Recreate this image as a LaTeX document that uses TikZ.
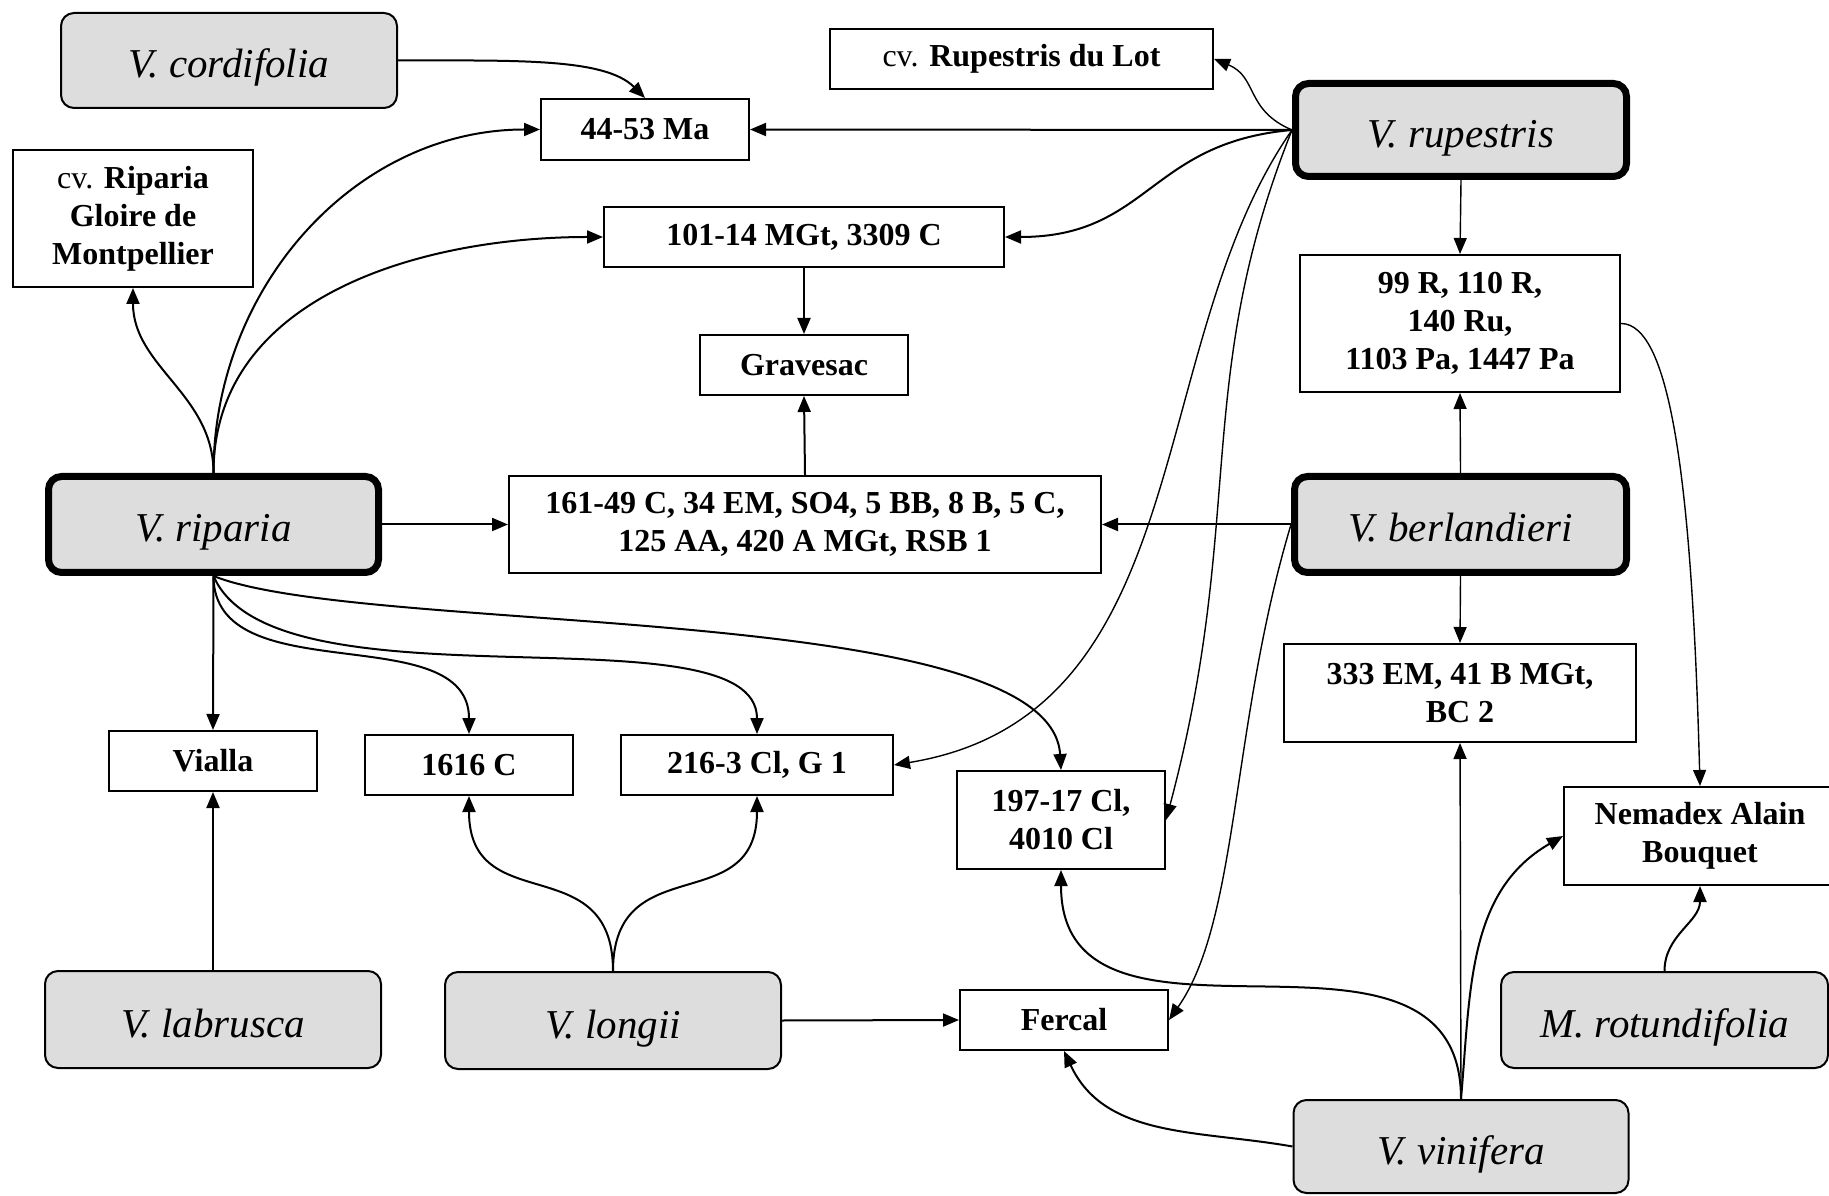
\documentclass[tikz,border=0pt]{standalone}
\usepackage{fontspec}
\setmainfont{Liberation Serif}
\usetikzlibrary{arrows.meta}
\definecolor{speciesgray}{RGB}{221,221,221}

\begin{document}
\begin{tikzpicture}[x=0.5pt,y=0.5pt,
	species/.style={draw,fill=speciesgray,rounded corners=6.5pt,line width=1pt,inner sep=0pt,text height=17.5pt,text depth=0pt,font=\fontsize{20.5}{24}\selectfont\itshape},
	mainspecies/.style={species,line width=3.5pt},
	rootstock/.style={draw,fill=white,line width=1pt,inner sep=2pt,align=center,font=\fontsize{16}{19}\selectfont\bfseries},
	link/.style={line width=1pt,-{Triangle[length=8pt,width=6.5pt]}},
	thinlink/.style={link,line width=0.7pt}]
	\useasboundingbox (0,0) rectangle (1829,1195);

	\node[species,minimum width=168pt,minimum height=47.5pt] (cordifolia) at (229,1134.5) {V. cordifolia};
	\node[mainspecies,minimum width=165.5pt,minimum height=46.5pt] (rupestris) at (1461,1065) {V. rupestris};
	\node[mainspecies,minimum width=165pt,minimum height=48pt] (riparia) at (213.5,670.5) {V. riparia};
	\node[mainspecies,minimum width=166pt,minimum height=48pt] (berlandieri) at (1460.5,670.5) {V. berlandieri};
	\node[species,minimum width=168pt,minimum height=48.5pt] (labrusca) at (213,175.5) {V. labrusca};
	\node[species,minimum width=168pt,minimum height=48.5pt] (longii) at (613,174.5) {V. longii};
	\node[species,minimum width=167.5pt,minimum height=46.5pt] (vinifera) at (1461,48.5) {V. vinifera};
	\node[species,minimum width=163.5pt,minimum height=48pt] (rotundifolia) at (1664.5,175) {M. rotundifolia};

	\node[rootstock,minimum width=191.5pt,minimum height=30pt] (lot) at (1021.5,1136) {{\mdseries cv.} Rupestris du Lot};
	\node[rootstock,minimum width=104pt,minimum height=30.5pt] (ma) at (645,1065.5) {44-53 Ma};
	\node[rootstock,minimum width=120pt,minimum height=68.5pt] (gloire) at (133,976.5) {{\mdseries cv.} Riparia\\Gloire de\\Montpellier};
	\node[rootstock,minimum width=200pt,minimum height=30pt] (mgt) at (804,958) {101-14 MGt, 3309 C};
	\node[rootstock,minimum width=104pt,minimum height=30pt] (gravesac) at (804,830) {Gravesac};
	\node[rootstock,minimum width=160pt,minimum height=68.5pt] (ru) at (1460,871.5) {99 R, 110 R,\\140 Ru,\\1103 Pa, 1447 Pa};
	\node[rootstock,minimum width=296pt,minimum height=48.5pt] (cfam) at (805,670.5) {161-49 C, 34 EM, SO4, 5 BB, 8 B, 5 C,\\125 AA, 420 A MGt, RSB 1};
	\node[rootstock,minimum width=104pt,minimum height=30pt] (vialla) at (213,434) {Vialla};
	\node[rootstock,minimum width=104pt,minimum height=30pt] (c1616) at (469,430) {1616 C};
	\node[rootstock,minimum width=136pt,minimum height=30pt] (cl216) at (757,430) {216-3 Cl, G 1};
	\node[rootstock,minimum width=104pt,minimum height=49pt] (cl197) at (1061,375) {197-17 Cl,\\4010 Cl};
	\node[rootstock,minimum width=176pt,minimum height=49pt] (em333) at (1460,502) {333 EM, 41 B MGt,\\BC 2};
	\node[rootstock,minimum width=136pt,minimum height=49pt] (nemadex) at (1700,359) {Nemadex Alain\\Bouquet};
	\node[rootstock,minimum width=104pt,minimum height=30pt] (fercal) at (1064,175) {Fercal};

	\draw[link] (cordifolia.east) .. controls +(120,0) and +(-40,40) .. (ma.north);
	\draw[link] (rupestris.west) -- (ma.east);
	\draw[thinlink] (rupestris.west) .. controls +(-47,20) and +(44,-18) .. (lot.east);
	\draw[link] (rupestris.west) to[out=185,in=0,looseness=1.2] (mgt.east);
	\draw[thinlink] (rupestris.west) .. controls +(-150,-215) and +(306,50) .. (cl216.east);
	\draw[thinlink] (rupestris.west) .. controls +(-100,-250) and +(80,300) .. (cl197.east);
	\draw[link] (berlandieri.west) -- (cfam.east);
	\draw[thinlink] (berlandieri.west) .. controls +(-60,-200) and +(70,100) .. (fercal.east);
	\draw[thinlink] (rupestris.south) -- (ru.north);
	\draw[thinlink] (berlandieri.north) -- (ru.south);
	\draw[thinlink] (berlandieri.south) -- (em333.north);
	\draw[thinlink] (vinifera.north) -- (em333.south);
	\draw[link] (vinifera.north) to[out=85,in=210] (nemadex.west);
	\draw[link] (vinifera.north) to[out=90,in=-90,looseness=1.2] (cl197.south);
	\draw[link] (vinifera.west) to[out=170,in=-65] (fercal.south);
	\draw[link] (longii.east) -- (fercal.west);
	\draw[link] (longii.north) to[out=90,in=-90,looseness=1.4] (c1616.south);
	\draw[link] (longii.north) to[out=90,in=-90,looseness=1.4] (cl216.south);
	\draw[link] (labrusca.north) -- (vialla.south);
	\draw[link] (riparia.south) -- (vialla.north);
	\draw[link] (riparia.south) to[out=-90,in=90] (c1616.north);
	\draw[link] (riparia.south) .. controls +(60,-140) and +(0,130) .. (cl216.north);
	\draw[link] (riparia.south) .. controls +(150,-60) and +(-10,170) .. (cl197.north);
	\draw[link] (riparia.east) -- (cfam.west);
	\draw[link] (cfam.north) -- (gravesac.south);
	\draw[link] (mgt.south) -- (gravesac.north);
	\draw[thinlink] (ru.east) .. controls +(50,0) and +(-8,300) .. (nemadex.north);
	\draw[link] (rotundifolia.north) to[out=90,in=-90] (nemadex.south);
	\draw[link] (riparia.north) to[out=90,in=-90] (gloire.south);
	\draw[link] (riparia.north) to[out=90,in=180] (ma.west);
	\draw[link] (riparia.north) to[out=90,in=180] (mgt.west);
\end{tikzpicture}
\end{document}
